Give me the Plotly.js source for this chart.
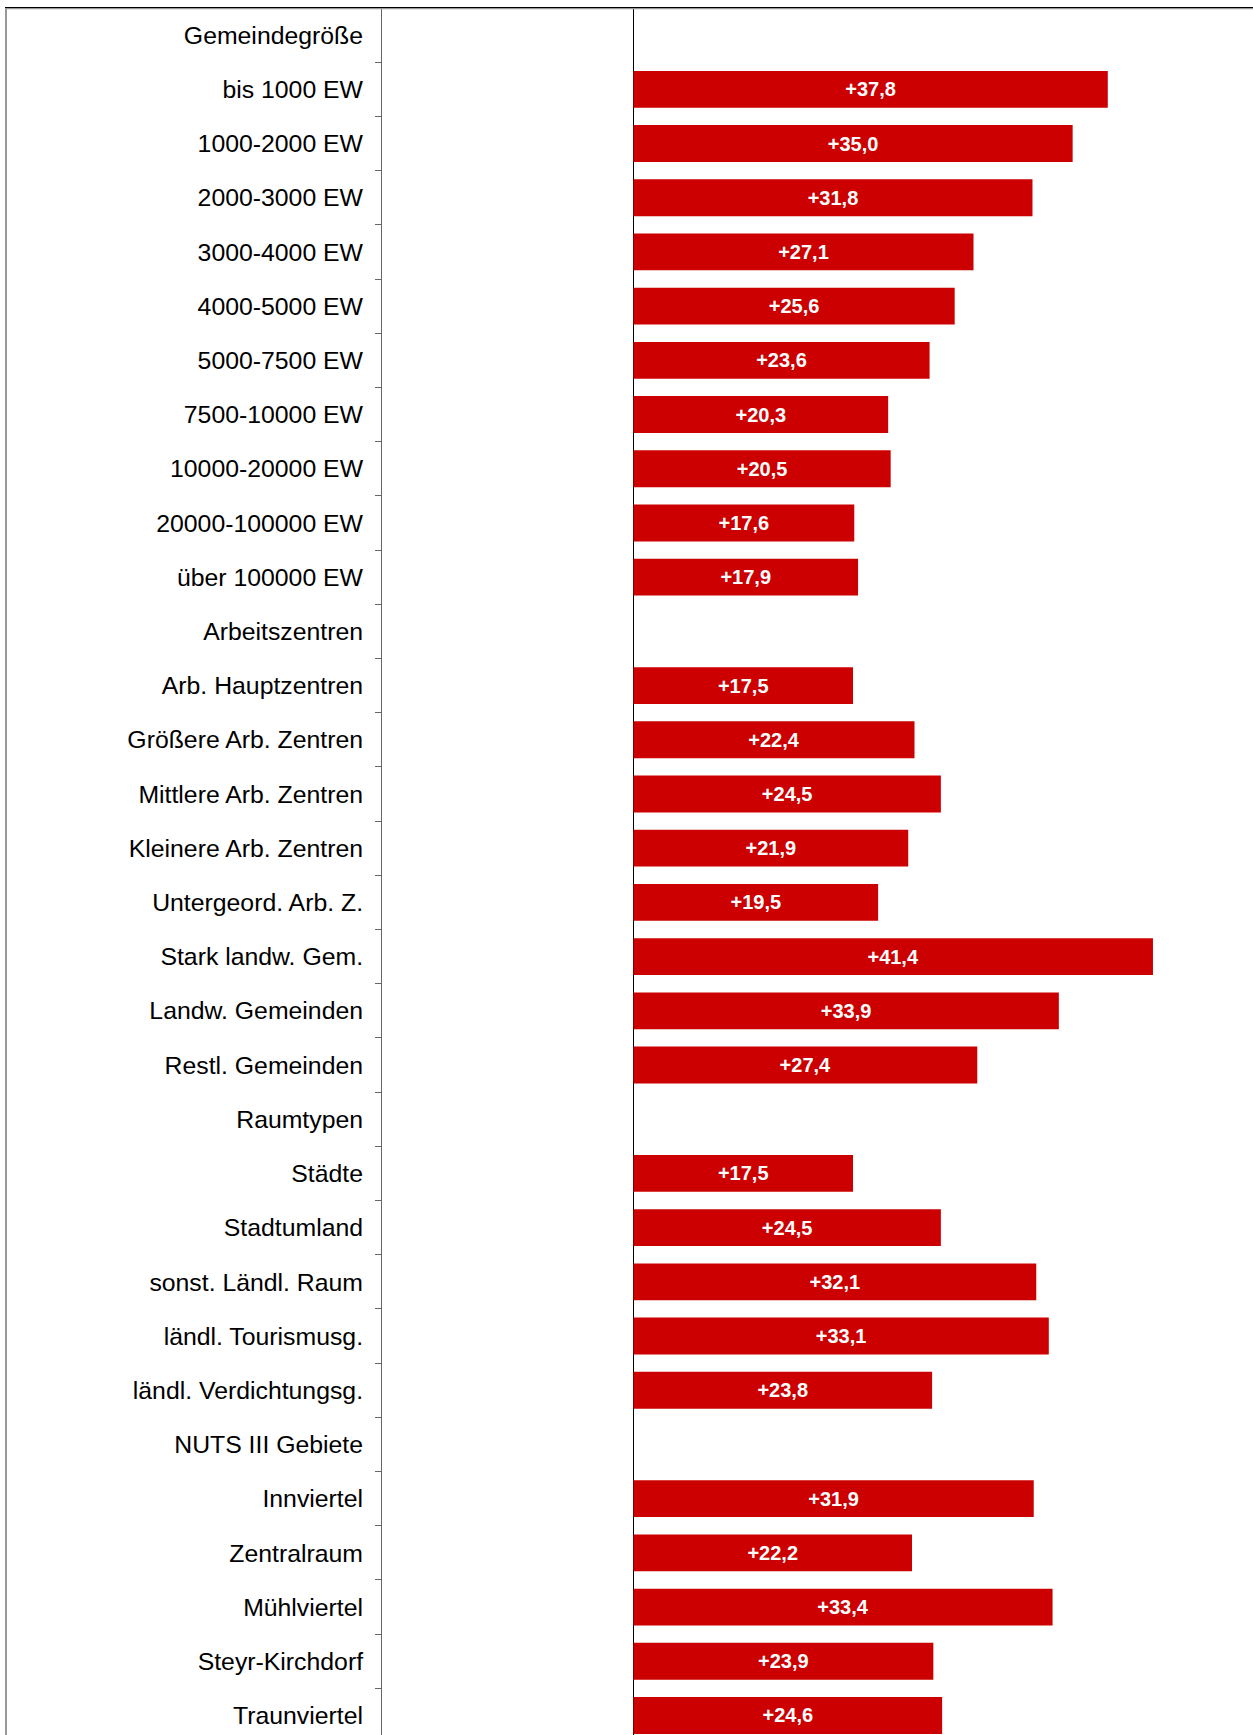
<!DOCTYPE html>
<html>
<head>
<meta charset="utf-8">
<script src="https://cdn.plot.ly/plotly-3.0.1.min.js"></script>
<style>
html, body { margin: 0; padding: 0; background: #fff; overflow: hidden; }
#chart { width: 1253px; height: 1735px; }
</style>
</head>
<body>
<div id="chart"></div>
<script>
const categories = [
  "Gemeindegröße", "bis 1000 EW", "1000-2000 EW", "2000-3000 EW", "3000-4000 EW",
  "4000-5000 EW", "5000-7500 EW", "7500-10000 EW", "10000-20000 EW", "20000-100000 EW",
  "über 100000 EW", "Arbeitszentren", "Arb. Hauptzentren", "Größere Arb. Zentren",
  "Mittlere Arb. Zentren", "Kleinere Arb. Zentren", "Untergeord. Arb. Z.",
  "Stark landw. Gem.", "Landw. Gemeinden", "Restl. Gemeinden", "Raumtypen", "Städte",
  "Stadtumland", "sonst. Ländl. Raum", "ländl. Tourismusg.", "ländl. Verdichtungsg.",
  "NUTS III Gebiete", "Innviertel", "Zentralraum", "Mühlviertel", "Steyr-Kirchdorf",
  "Traunviertel"
];
const values = [
  null, 37.8, 35.0, 31.8, 27.1,
  25.6, 23.6, 20.3, 20.5, 17.6,
  17.9, null, 17.5, 22.4,
  24.5, 21.9, 19.5,
  41.4, 33.9, 27.4, null, 17.5,
  24.5, 32.1, 33.1, 23.8,
  null, 31.9, 22.2, 33.4, 23.9,
  24.6
];

const W = 1253, H = 1735;
const mL = 382, mT = 8;
const plotW = W - mL, plotH = H - mT;

const trace = {
  type: 'bar',
  orientation: 'h',
  x: values,
  y: categories,
  marker: { color: '#CC0000', line: { width: 0 } },
  width: 0.68,
  texttemplate: '+%{x:.1f}',
  textposition: 'inside',
  insidetextanchor: 'middle',
  textangle: 0,
  constraintext: 'none',
  textfont: { family: 'Liberation Sans, Arial, sans-serif', size: 20, color: '#ffffff', weight: 'bold' },
  hoverinfo: 'skip',
  cliponaxis: false
};

function px2paperX(px) { return (px - mL) / plotW; }
function px2paperY(py) { return 1 - (py - mT) / plotH; }

const layout = {
  width: W, height: H,
  margin: { l: mL, r: 0, t: mT, b: 0, pad: 0 },
  paper_bgcolor: '#ffffff',
  plot_bgcolor: '#ffffff',
  separators: ',.',
  showlegend: false,
  font: { family: 'Liberation Sans, Arial, sans-serif', color: '#000000' },
  xaxis: {
    range: [-20.03, 49.37],
    showgrid: false,
    showticklabels: false,
    ticks: '',
    showline: false,
    zeroline: true,
    zerolinecolor: '#000000',
    zerolinewidth: 1,
    fixedrange: true
  },
  yaxis: {
    type: 'category',
    range: [31.36, -0.5],
    showgrid: false,
    showline: true,
    linecolor: '#666666',
    linewidth: 1,
    ticks: 'outside',
    tickson: 'boundaries',
    ticklen: 6,
    tickwidth: 1,
    tickcolor: '#666666',
    ticklabelstandoff: 13,
    tickfont: { family: 'Liberation Sans, Arial, sans-serif', size: 24.8, color: '#000000' },
    zeroline: false,
    fixedrange: true
  },
  shapes: [
    { type: 'line', xref: 'paper', yref: 'paper',
      x0: px2paperX(5), x1: px2paperX(W + 2), y0: px2paperY(7.5), y1: px2paperY(7.5),
      line: { color: '#000000', width: 1 } },
    { type: 'line', xref: 'paper', yref: 'paper',
      x0: px2paperX(5), x1: px2paperX(W + 2), y0: px2paperY(8.6), y1: px2paperY(8.6),
      line: { color: '#999999', width: 1.2 } },
    { type: 'line', xref: 'paper', yref: 'paper',
      x0: px2paperX(6), x1: px2paperX(6), y0: px2paperY(8), y1: px2paperY(H + 2),
      line: { color: '#999999', width: 2 } }
  ]
};

Plotly.newPlot('chart', [trace], layout, { staticPlot: true, displayModeBar: false });
</script>
</body>
</html>
